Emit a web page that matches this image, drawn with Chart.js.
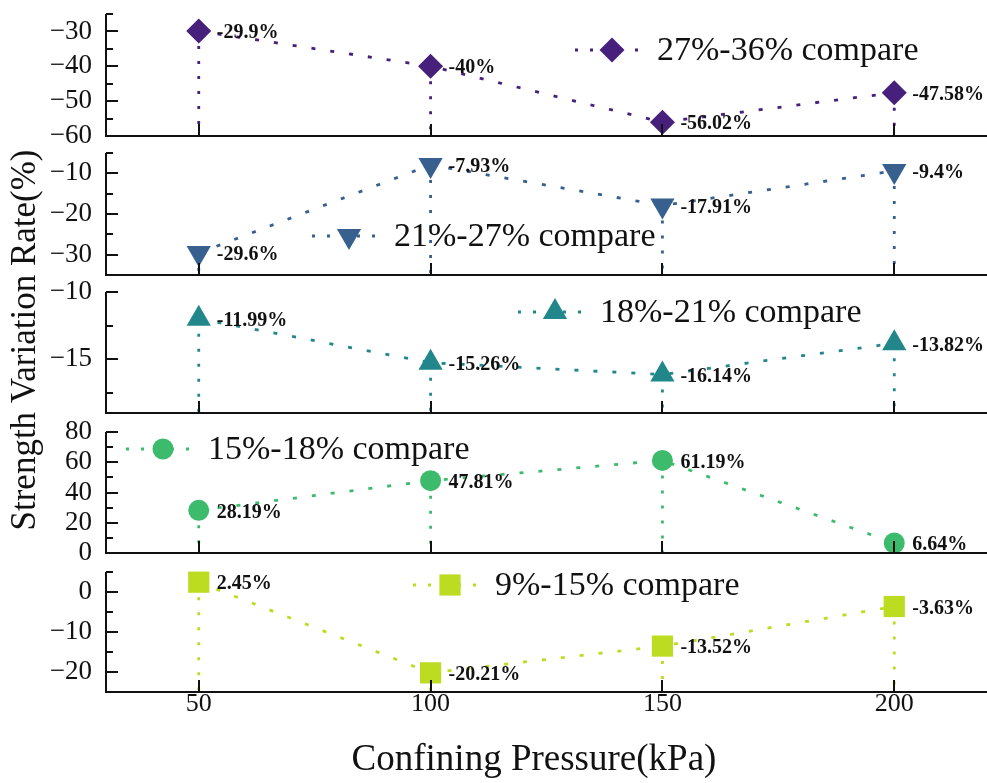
<!DOCTYPE html>
<html>
<head>
<meta charset="utf-8">
<title>Strength Variation Rate vs Confining Pressure</title>
<script src="https://cdn.jsdelivr.net/npm/chart.js@4.4.1/dist/chart.umd.min.js"></script>
<style>
  html, body { margin: 0; padding: 0; background: #ffffff; }
  #wrap { position: relative; width: 987px; height: 783px; overflow: hidden; background: #ffffff; }
  #wrap canvas { position: absolute; left: 0; top: 0; }
</style>
</head>
<body>
<div id="wrap"></div>
<script>
// ---- data ----
const pressures = [50, 100, 150, 200];
const xTicks = [50, 100, 150, 200];

const seriesNames = ['27%-36% compare', '21%-27% compare', '18%-21% compare', '15%-18% compare', '9%-15% compare'];

const rate27to36 = [-29.9, -40, -56.02, -47.58];
const rate21to27 = [-29.6, -7.93, -17.91, -9.4];
const rate18to21 = [-11.99, -15.26, -16.14, -13.82];
const rate15to18 = [28.19, 47.81, 61.19, 6.64];
const rate9to15  = [2.45, -20.21, -13.52, -3.63];

const yTicks27to36 = [-60, -50, -40, -30];
const yTicks21to27 = [-30, -20, -10];
const yTicks18to21 = [-15, -10];
const yTicks15to18 = [0, 20, 40, 60, 80];
const yTicks9to15  = [-20, -10, 0];

const yMinor27to36 = [-55, -45, -35, -25];
const yMinor21to27 = [-35, -25, -15, -5];
const yMinor18to21 = [-17.5, -12.5];
const yMinor15to18 = [10, 30, 50, 70];
const yMinor9to15  = [-25, -15, -5, 5];

const yRange27to36 = [-60, -25];
const yRange21to27 = [-35, -5];
const yRange18to21 = [-19, -10];
const yRange15to18 = [0, 80];
const yRange9to15  = [-25, 5];

const xRange = [30, 220];

const yTitle = 'Strength Variation Rate(%)';
const xTitle = 'Confining Pressure(kPa)';

// ---- panel styling ----
const W = 987, H = 783;
const SERIF = '"Liberation Serif", "Times New Roman", serif';
const DOT_W = 2.8;

const panels = [
  { name: seriesNames[0], values: rate27to36, ticks: yTicks27to36, minor: yMinor27to36, range: yRange27to36,
    top: 14, bottom: 136, color: '#46207a', style: 'rectRot', radius: 12.5, rotation: 0, legend: [612, 50] },
  { name: seriesNames[1], values: rate21to27, ticks: yTicks21to27, minor: yMinor21to27, range: yRange21to27,
    top: 153, bottom: 275, color: '#37608f', style: 'triangle', radius: 14, rotation: 180, legend: [349, 236] },
  { name: seriesNames[2], values: rate18to21, ticks: yTicks18to21, minor: yMinor18to21, range: yRange18to21,
    top: 292, bottom: 413, color: '#22878b', style: 'triangle', radius: 14, rotation: 0, legend: [555, 312] },
  { name: seriesNames[3], values: rate15to18, ticks: yTicks15to18, minor: yMinor15to18, range: yRange15to18,
    top: 432, bottom: 553, color: '#3dbb6d', style: 'circle', radius: 10.5, rotation: 0, legend: [163, 449] },
  { name: seriesNames[4], values: rate9to15, ticks: yTicks9to15, minor: yMinor9to15, range: yRange9to15,
    top: 572, bottom: 692, color: '#bcdc22', style: 'rect', radius: 15, rotation: 0, legend: [450, 585] }
];

const fmtTick = v => (v < 0 ? '\u2212' + Math.abs(v) : String(v));
const fmtLabel = v => String(v) + '%';

function drawMarker(ctx, p, x, y) {
  ctx.fillStyle = p.color;
  ctx.strokeStyle = p.color;
  const opts = { pointStyle: p.style, radius: p.radius, rotation: p.rotation, borderWidth: 0 };
  if (Chart.helpers && Chart.helpers.drawPoint) {
    Chart.helpers.drawPoint(ctx, opts, x, y);
    return;
  }
  ctx.beginPath();
  if (p.style === 'circle') ctx.arc(x, y, p.radius, 0, Math.PI * 2);
  else if (p.style === 'rect') { const s = p.radius * Math.SQRT1_2; ctx.rect(x - s, y - s, 2 * s, 2 * s); }
  else if (p.style === 'rectRot') { const r = p.radius; ctx.moveTo(x, y - r); ctx.lineTo(x + r, y); ctx.lineTo(x, y + r); ctx.lineTo(x - r, y); ctx.closePath(); }
  else {
    const r = p.radius, dir = p.rotation === 180 ? -1 : 1;
    const e = r * Math.sqrt(3) / 2;
    ctx.moveTo(x, y - dir * r); ctx.lineTo(x + e, y + dir * r / 2); ctx.lineTo(x - e, y + dir * r / 2); ctx.closePath();
  }
  ctx.fill();
}

// drop lines, inward ticks, axis lines, value labels and the in-panel legend
const panelDecor = {
  id: 'panelDecor',
  beforeDatasetsDraw(chart, args, o) {
    const p = o.panel;
    if (!p) return;
    const { ctx, chartArea: a, scales: { x, y } } = chart;
    ctx.save();
    ctx.strokeStyle = p.color;
    ctx.lineWidth = DOT_W;
    ctx.setLineDash([3, 12]);
    p.values.forEach((v, i) => {
      const px = x.getPixelForValue(pressures[i]);
      const py = y.getPixelForValue(v);
      ctx.beginPath();
      ctx.moveTo(px, py);
      ctx.lineTo(px, a.bottom);
      ctx.stroke();
    });
    ctx.restore();
  },
  afterDatasetsDraw(chart, args, o) {
    const p = o.panel;
    if (!p) return;
    const { ctx, chartArea: a, scales: { x, y } } = chart;
    ctx.save();

    // axis lines
    ctx.strokeStyle = '#111';
    ctx.lineWidth = 2;
    ctx.setLineDash([]);
    ctx.beginPath();
    ctx.moveTo(a.left, a.top);
    ctx.lineTo(a.left, a.bottom);
    ctx.lineTo(a.right, a.bottom);
    ctx.stroke();

    // inward y ticks
    ctx.beginPath();
    p.ticks.forEach(v => {
      const py = Math.round(y.getPixelForValue(v));
      ctx.moveTo(a.left, py); ctx.lineTo(a.left + 12, py);
    });
    p.minor.forEach(v => {
      const py = Math.round(y.getPixelForValue(v));
      ctx.moveTo(a.left, py); ctx.lineTo(a.left + 7, py);
    });
    // inward x ticks
    xTicks.forEach(v => {
      const px = Math.round(x.getPixelForValue(v));
      ctx.moveTo(px, a.bottom); ctx.lineTo(px, a.bottom - 12);
    });
    ctx.stroke();

    // value labels
    ctx.fillStyle = '#111';
    ctx.font = 'bold 20px ' + SERIF;
    ctx.textAlign = 'left';
    ctx.textBaseline = 'middle';
    p.values.forEach((v, i) => {
      const px = x.getPixelForValue(pressures[i]);
      const py = y.getPixelForValue(v);
      ctx.fillText(fmtLabel(v), px + 18, py + 2);
    });

    // legend: dotted handle, marker, name
    const [mx, my] = p.legend;
    ctx.strokeStyle = p.color;
    ctx.lineWidth = DOT_W;
    ctx.setLineDash([3, 12]);
    ctx.beginPath();
    ctx.moveTo(mx - 37, my);
    ctx.lineTo(mx + 30, my);
    ctx.stroke();
    ctx.setLineDash([]);
    drawMarker(ctx, p, mx, my);
    ctx.fillStyle = '#111';
    ctx.font = '34px ' + SERIF;
    ctx.textAlign = 'left';
    ctx.textBaseline = 'middle';
    ctx.fillText(p.name, mx + 45, my + 1);

    // shared axis titles
    if (o.yTitle) {
      ctx.save();
      ctx.translate(26, 340);
      ctx.rotate(-Math.PI / 2);
      ctx.font = '35px ' + SERIF;
      ctx.textAlign = 'center';
      ctx.textBaseline = 'middle';
      ctx.fillStyle = '#111';
      ctx.fillText(o.yTitle, 0, 0);
      ctx.restore();
    }
    if (o.xTitle) {
      ctx.font = '37px ' + SERIF;
      ctx.textAlign = 'center';
      ctx.textBaseline = 'middle';
      ctx.fillStyle = '#111';
      ctx.fillText(o.xTitle, 534, 760);
    }
    ctx.restore();
  }
};

const wrap = document.getElementById('wrap');
const X_AXIS_H = H - panels[panels.length - 1].bottom;

panels.forEach((p, idx) => {
  const canvas = document.createElement('canvas');
  canvas.width = W;
  canvas.height = H;
  canvas.style.width = W + 'px';
  canvas.style.height = H + 'px';
  wrap.appendChild(canvas);
  const last = idx === panels.length - 1;

  new Chart(canvas.getContext('2d'), {
    type: 'line',
    data: {
      datasets: [{
        label: p.name,
        data: pressures.map((xv, i) => ({ x: xv, y: p.values[i] })),
        borderColor: p.color,
        backgroundColor: p.color,
        borderWidth: DOT_W,
        borderDash: [4, 15],
        fill: false,
        tension: 0,
        pointStyle: p.style,
        pointRadius: p.radius,
        pointRotation: p.rotation,
        pointBorderWidth: 0,
        pointBackgroundColor: p.color,
        clip: false
      }]
    },
    options: {
      responsive: false,
      animation: false,
      devicePixelRatio: 1,
      events: [],
      layout: { autoPadding: false, padding: { top: p.top, bottom: last ? 0 : H - p.bottom, left: 0, right: 0 } },
      plugins: {
        legend: { display: false },
        tooltip: { enabled: false },
        panelDecor: { panel: p, yTitle: idx === 0 ? yTitle : null, xTitle: last ? xTitle : null }
      },
      scales: {
        x: {
          type: 'linear',
          min: xRange[0],
          max: xRange[1],
          display: last,
          grid: { display: false, drawTicks: false },
          border: { display: false },
          afterBuildTicks: s => { s.ticks = xTicks.map(v => ({ value: v })); },
          afterFit: s => { if (last) s.height = X_AXIS_H; s.paddingLeft = 0; s.paddingRight = 0; },
          ticks: {
            color: '#111',
            font: { family: SERIF, size: 26 },
            padding: -3,
            maxRotation: 0,
            autoSkip: false,
            callback: v => String(v)
          },
          title: { display: false }
        },
        y: {
          type: 'linear',
          min: p.range[0],
          max: p.range[1],
          grid: { display: false, drawTicks: false },
          border: { display: false },
          afterBuildTicks: s => { s.ticks = p.ticks.slice().sort((a, b) => a - b).map(v => ({ value: v })); },
          afterFit: s => { s.width = 106; s.paddingTop = 0; s.paddingBottom = 0; },
          ticks: {
            color: '#111',
            font: { family: SERIF, size: 27 },
            padding: 14,
            autoSkip: false,
            callback: v => fmtTick(v)
          }
        }
      }
    },
    plugins: [panelDecor]
  });
});
</script>
</body>
</html>
